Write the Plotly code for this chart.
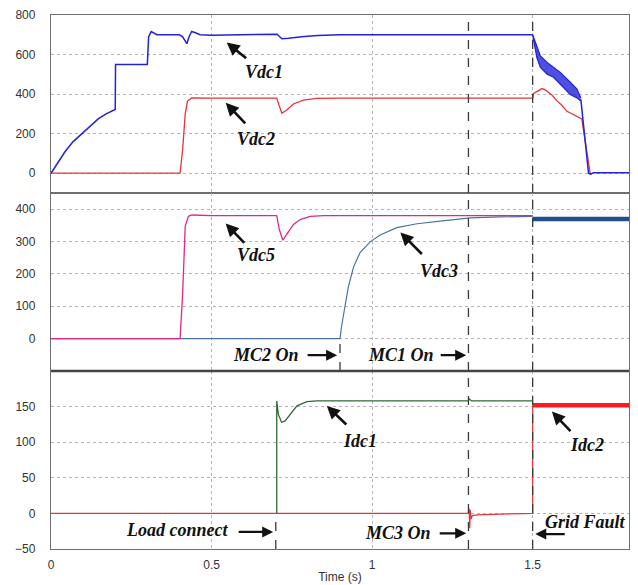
import plotly.graph_objects as go
from plotly.subplots import make_subplots

# ---------------- data ----------------
# Top panel
vdc1_t = [0, 0.023, 0.044, 0.069, 0.096, 0.122, 0.147, 0.173, 0.200, 0.201, 0.300, 0.304, 0.312,
          0.33, 0.40, 0.410, 0.423, 0.430, 0.438, 0.45, 0.464, 0.50, 0.700, 0.704, 0.719,
          0.74, 0.78, 0.83, 0.90, 1.50]
vdc1_v = [0, 60, 110, 160, 200, 243, 275, 301, 322, 550, 550, 690, 716,
          700, 700, 690, 655, 690, 717, 710, 700, 698, 700, 703, 680,
          682, 690, 696, 700, 700]
vdc1_fault_t = [1.500, 1.513, 1.524, 1.545, 1.565, 1.586, 1.617, 1.638, 1.650]
vdc1_fault_hi = [700, 643, 593, 560, 535, 510, 460, 426, 381]
vdc1_fault_lo = [700, 585, 535, 501, 485, 451, 398, 381, 365]
vdc1_end_t = [1.650, 1.674, 1.680, 1.690, 1.800]
vdc1_end_v = [373, 0, -5, 3, 2]

vdc2_t = [0, 0.402, 0.410, 0.418, 0.425, 0.438, 0.50, 0.703, 0.711, 0.719, 0.734, 0.755, 0.786,
          0.828, 0.90, 1.500, 1.503, 1.515, 1.529, 1.540, 1.549, 1.560, 1.575, 1.590, 1.607,
          1.630, 1.653, 1.679, 1.685]
vdc2_v = [0, 0, 120, 300, 365, 381, 380, 380, 340, 303, 320, 350, 370,
          378, 380, 380, 403, 415, 428, 420, 408, 395, 367, 345, 313,
          295, 275, 0, -3]

# Middle panel
vdc5_t = [0, 0.402, 0.410, 0.418, 0.428, 0.438, 0.50, 0.703, 0.711, 0.722, 0.734, 0.755, 0.776,
          0.807, 0.85, 1.50]
vdc5_v = [0, 0, 140, 348, 378, 382, 380, 380, 337, 304, 322, 353, 368,
          378, 380, 380]
vdc3_t = [0, 0.900, 0.905, 0.916, 0.926, 0.942, 0.963, 0.994, 1.025, 1.077, 1.140, 1.212,
          1.305, 1.400, 1.500]
vdc3_v = [0, 0, 39, 109, 160, 221, 267, 299, 320, 343, 355, 363,
          373, 376, 378]
vdc3_fault_t = [1.500, 1.800]
vdc3_fault_v = [370, 370]

# Bottom panel
idc1_t = [0.703, 0.703, 0.708, 0.718, 0.729, 0.745, 0.766, 0.797, 0.828, 1.300, 1.302, 1.310, 1.500]
idc1_v = [0, 158, 139, 128, 130, 139, 151, 157, 158, 158, 161, 158, 158]
idc2_t = [0, 1.300, 1.302, 1.304, 1.306, 1.308, 1.312, 1.330, 1.400, 1.450, 1.500, 1.500]
idc2_v = [0, 0, 7, -21, 5, -8, -3, -2, -1, -1, 0, 152]
idc2_fault_t = [1.500, 1.800]
idc2_fault_v = [152, 152]

x_ticks = [0, 0.5, 1, 1.5]
x_ticklabels = ["0", "0.5", "1", "1.5"]
y1_ticks = [0, 200, 400, 600, 800]
y2_ticks = [0, 100, 200, 300, 400]
y3_ticks = [-50, 0, 50, 100, 150]

# ---------------- figure ----------------
fig = make_subplots(rows=3, cols=1, shared_xaxes=True, vertical_spacing=0)

BLUE = "#2323d8"
RED = "#e8343a"
PINK = "#e0288c"
STEEL = "#4a74a6"
NAVY = "#1f4f8f"
GREEN = "#2f6a35"

# top
fig.add_trace(go.Scatter(x=vdc2_t, y=vdc2_v, mode="lines", line=dict(color=RED, width=1.3)), 1, 1)
fig.add_trace(go.Scatter(x=vdc1_t, y=vdc1_v, mode="lines", line=dict(color=BLUE, width=1.5)), 1, 1)
fig.add_trace(go.Scatter(x=vdc1_fault_t, y=vdc1_fault_lo, mode="lines", line=dict(color=BLUE, width=1.2)), 1, 1)
fig.add_trace(go.Scatter(x=vdc1_fault_t, y=vdc1_fault_hi, mode="lines", fill="tonexty",
                         fillcolor="rgba(35,35,216,0.8)", line=dict(color=BLUE, width=1.2)), 1, 1)
fig.add_trace(go.Scatter(x=vdc1_end_t, y=vdc1_end_v, mode="lines", line=dict(color=BLUE, width=1.5)), 1, 1)

# middle
fig.add_trace(go.Scatter(x=vdc3_t, y=vdc3_v, mode="lines", line=dict(color=STEEL, width=1.2)), 2, 1)
fig.add_trace(go.Scatter(x=vdc5_t, y=vdc5_v, mode="lines", line=dict(color=PINK, width=1.3)), 2, 1)
fig.add_trace(go.Scatter(x=vdc3_fault_t, y=vdc3_fault_v, mode="lines", line=dict(color=NAVY, width=4.5)), 2, 1)

# bottom
fig.add_trace(go.Scatter(x=idc2_t, y=idc2_v, mode="lines", line=dict(color=RED, width=1.2)), 3, 1)
fig.add_trace(go.Scatter(x=idc1_t, y=idc1_v, mode="lines", line=dict(color=GREEN, width=1.3)), 3, 1)
fig.add_trace(go.Scatter(x=idc2_fault_t, y=idc2_fault_v, mode="lines", line=dict(color="#ff1c1c", width=4.5)), 3, 1)

FONT_AX = dict(family="Liberation Sans, Arial", size=12, color="#333333")
axis_common = dict(showline=True, mirror=True, linecolor="#6e6e6e", linewidth=1.3,
                   showgrid=True, gridcolor="#b3b3b3", griddash="dot", gridwidth=1,
                   zeroline=False, ticks="", tickfont=FONT_AX, automargin=False,
                   ticklabeloverflow="allow")

for i in (1, 2, 3):
    fig.update_xaxes(range=[0, 1.8], tickvals=x_ticks, ticktext=x_ticklabels, row=i, col=1, **axis_common)
fig.update_xaxes(title=dict(text="Time (s)", font=FONT_AX, standoff=2), ticklabelstandoff=4, row=3, col=1)
fig.update_yaxes(range=[-100, 800], tickvals=y1_ticks, ticklabelstandoff=12, row=1, col=1, **axis_common)
fig.update_yaxes(range=[-100, 450], tickvals=y2_ticks, ticklabelstandoff=12, row=2, col=1, **axis_common)
fig.update_yaxes(range=[-50, 200], tickvals=y3_ticks, ticklabelstandoff=12, row=3, col=1, **axis_common)

# event lines
DASH = dict(color="#3a3a3a", width=1.3, dash="dash")
events = [("x", "y", 1.3, -100, 800), ("x", "y", 1.5, -100, 800),
          ("x2", "y2", 0.9, -100, 0), ("x2", "y2", 1.3, -100, 450), ("x2", "y2", 1.5, -100, 450),
          ("x3", "y3", 0.7, -50, 0), ("x3", "y3", 1.3, -50, 200), ("x3", "y3", 1.5, -50, 200)]
for xr, yr, xv, y0, y1 in events:
    fig.add_shape(type="line", xref=xr, yref=yr, x0=xv, x1=xv, y0=y0, y1=y1, line=DASH)
fig.add_shape(type="line", xref="paper", yref="paper", x0=0, x1=1, y0=1/3, y1=1/3,
              line=dict(color="#454545", width=2.5))

LBL = dict(family="Liberation Serif, Times New Roman", size=18, color="#111111")

def label(xr, yr, x, y, text):
    fig.add_annotation(xref=xr, yref=yr, x=x, y=y, text="<b><i>%s</i></b>" % text,
                       showarrow=False, font=LBL)

def arrow(xr, yr, x, y, ax, ay, w=2.6):
    fig.add_annotation(xref=xr, yref=yr, x=x, y=y, ax=ax, ay=ay, text="",
                       showarrow=True, arrowhead=2, arrowsize=1, arrowwidth=w, arrowcolor="#111111")

label("x", "y", 0.664, 511, "Vdc1")
arrow("x", "y", 0.547, 661, 21, 17)
label("x", "y", 0.639, 171, "Vdc2")
arrow("x", "y", 0.544, 356, 21, 22)

label("x2", "y2", 0.639, 257, "Vdc5")
arrow("x2", "y2", 0.544, 356, 20, 21)
label("x2", "y2", 1.209, 210, "Vdc3")
arrow("x2", "y2", 1.088, 328, 23, 23)
label("x2", "y2", 0.670, -51, "MC2 On")
arrow("x2", "y2", 0.891, -51, -31, 0, 2.2)
label("x2", "y2", 1.091, -51, "MC1 On")
arrow("x2", "y2", 1.293, -51, -27, 0, 2.2)

label("x3", "y3", 0.961, 102, "Idc1")
arrow("x3", "y3", 0.859, 151, 21, 20)
label("x3", "y3", 1.670, 96, "Idc2")
arrow("x3", "y3", 1.560, 143, 20, 21)
label("x3", "y3", 0.391, -24, "Load connect")
arrow("x3", "y3", 0.692, -26, -36, 0, 2.2)
label("x3", "y3", 1.081, -27, "MC3 On")
arrow("x3", "y3", 1.293, -28, -28, 0, 2.2)
label("x3", "y3", 1.664, -12, "Grid Fault")
arrow("x3", "y3", 1.508, -29, 31, 0, 2.2)

# the page adds an 8px body margin, so the figure is sized/offset to compensate
fig.update_layout(width=630, height=577, margin=dict(l=43, r=9, t=7, b=36),
                  paper_bgcolor="white", plot_bgcolor="white", showlegend=False)

fig.write_html("out.html")
